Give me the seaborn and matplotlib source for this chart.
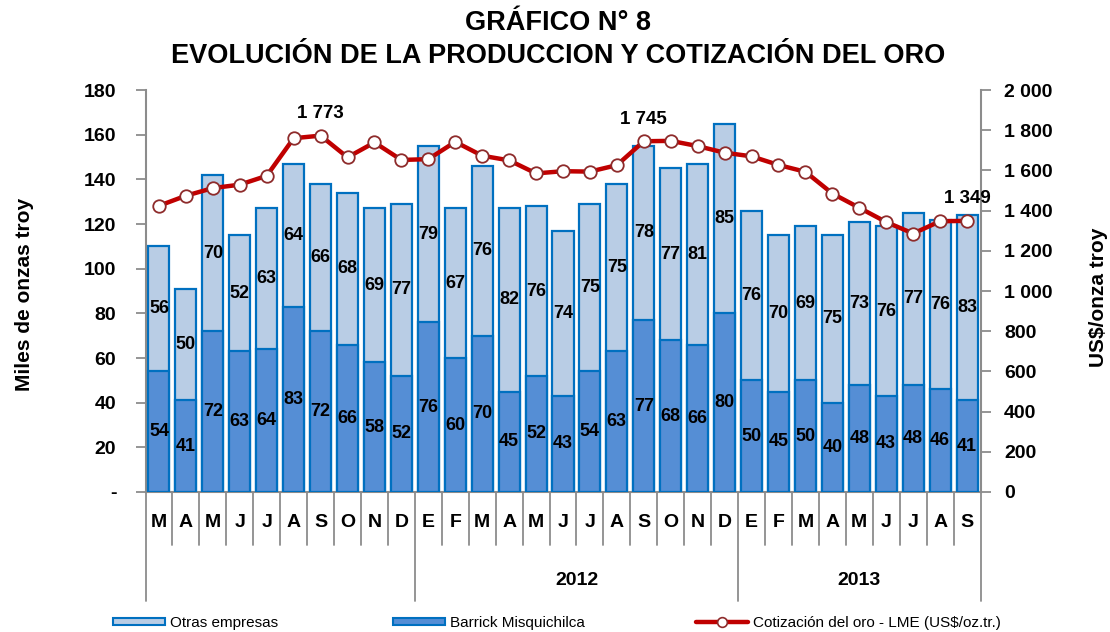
import numpy as np
import pandas as pd
import matplotlib
matplotlib.use("Agg")
import matplotlib.pyplot as plt
import seaborn as sns
from matplotlib.transforms import blended_transform_factory
from matplotlib.patches import Patch
from matplotlib.lines import Line2D

# ---------------- data ----------------
months = ["M", "A", "M", "J", "J", "A", "S", "O", "N", "D",
          "E", "F", "M", "A", "M", "J", "J", "A", "S", "O", "N", "D",
          "E", "F", "M", "A", "M", "J", "J", "A", "S"]
years = [2011] * 10 + [2012] * 12 + [2013] * 9
barrick = [54, 41, 72, 63, 64, 83, 72, 66, 58, 52,
           76, 60, 70, 45, 52, 43, 54, 63, 77, 68, 66, 80,
           50, 45, 50, 40, 48, 43, 48, 46, 41]
otras = [56, 50, 70, 52, 63, 64, 66, 68, 69, 77,
         79, 67, 76, 82, 76, 74, 75, 75, 78, 77, 81, 85,
         76, 70, 69, 75, 73, 76, 77, 76, 83]
oro = [1424, 1474, 1512, 1529, 1573, 1760, 1773, 1665, 1739, 1652,
       1656, 1742, 1673, 1650, 1585, 1596, 1594, 1626, 1745, 1747, 1721, 1688,
       1670, 1627, 1593, 1485, 1414, 1343, 1286, 1347, 1349]
labeled_years = ["2012", "2013"]
highlight_idx = [6, 18, 30]
left_ticks = list(range(0, 181, 20))
left_ticklabels = ["-"] + [str(v) for v in left_ticks[1:]]
right_ticks = list(range(0, 2001, 200))

title1 = "GRÁFICO N° 8"
title2 = "EVOLUCIÓN DE LA PRODUCCION Y COTIZACIÓN DEL ORO"
ylabel_left = "Miles de onzas troy"
ylabel_right = "US$/onza troy"
leg_labels = ["Otras empresas", "Barrick Misquichilca", "Cotización del oro - LME (US$/oz.tr.)"]

# ---------------- style ----------------
c_light = "#B9CDE5"
c_dark = "#558ED5"
c_edge = "#0070C0"
c_line = "#C00000"
c_mark_edge = "#8E2B2B"
c_axis = "#8C8C8C"

sns.set_theme(style="white")
plt.rcParams["font.family"] = ["Liberation Sans", "DejaVu Sans"]
plt.rcParams["text.color"] = "black"
plt.rcParams["axes.labelcolor"] = "black"
plt.rcParams["xtick.labelcolor"] = "black"
plt.rcParams["ytick.labelcolor"] = "black"

fig = plt.figure(figsize=(11.1, 6.32), dpi=100)
ax = fig.add_axes([145.5 / 1110, 1 - 492 / 632, (980.5 - 145.5) / 1110, (492 - 90) / 632])

n = len(months)
keys = [f"{y}-{i:02d}" for i, y in enumerate(years)]
df = pd.DataFrame({"key": keys,
                   "total": np.add(barrick, otras),
                   "barrick": barrick})

sns.barplot(data=df, x="key", y="total", order=keys, color=c_light, edgecolor=c_edge,
            linewidth=1.6, width=0.78, saturation=1, errorbar=None, ax=ax, zorder=2)
sns.barplot(data=df, x="key", y="barrick", order=keys, color=c_dark, edgecolor=c_edge,
            linewidth=1.6, width=0.78, saturation=1, errorbar=None, ax=ax, zorder=3)

ax.set_xlim(-0.5, n - 0.5)
ax.set_ylim(0, 180)
ax.set_xlabel("")
ax.set_ylabel("")
ax.set_xticks([])
ax.set_yticks(left_ticks)
ax.set_yticklabels(left_ticklabels, fontsize=14, fontweight="bold")
ax.tick_params(axis="y", left=True, length=7, width=1.3, color=c_axis, labelcolor="black",
               direction="out", pad=14)
for s in ["top", "right"]:
    ax.spines[s].set_visible(False)
for s in ["left", "bottom"]:
    ax.spines[s].set_color(c_axis)
    ax.spines[s].set_linewidth(1.5)

# bar labels
for i in range(n):
    ax.text(i, barrick[i] / 2, str(barrick[i]), ha="center", va="center",
            fontsize=13, fontweight="bold", color="black", zorder=5)
    ax.text(i, barrick[i] + otras[i] / 2, str(otras[i]), ha="center", va="center",
            fontsize=13, fontweight="bold", color="black", zorder=5)

# secondary axis with gold price
ax2 = ax.twinx()
sns.lineplot(x=np.arange(n), y=oro, ax=ax2, color=c_line, linewidth=3.2, marker="o",
             markersize=9, markerfacecolor="white", markeredgecolor=c_mark_edge,
             markeredgewidth=1.3, zorder=6)
ax2.set_xlim(-0.5, n - 0.5)
ax2.set_ylim(0, 2000)
ax2.set_yticks(right_ticks)
ax2.set_yticklabels([f"{v:,}".replace(",", " ") for v in right_ticks], fontsize=14, fontweight="bold")
ax2.tick_params(axis="y", right=True, length=7, width=1.3, color=c_axis, labelcolor="black",
                direction="out", pad=10)
for lab in ax2.get_yticklabels():
    lab.set_ha("left")
ax2.set_ylabel("")
for s in ["top", "left", "bottom"]:
    ax2.spines[s].set_visible(False)
ax2.spines["right"].set_color(c_axis)
ax2.spines["right"].set_linewidth(1.5)

for i in highlight_idx:
    ax2.annotate(f"{oro[i]:,}".replace(",", " "), (i, oro[i]), xytext=(0, 16),
                 textcoords="offset points", ha="center", va="center",
                 fontsize=13.5, fontweight="bold", color="black", zorder=7)

# category axis: months, separators, years
tr = blended_transform_factory(ax.transData, ax.transAxes)
for i, m in enumerate(months):
    ax.text(i, -0.077, m, transform=tr, ha="center", va="center",
            fontsize=14, fontweight="bold", color="black", clip_on=False)
year_bounds = [0] + [i for i in range(1, n) if years[i] != years[i - 1]] + [n]
for b in range(n + 1):
    depth = -0.27 if b in year_bounds else -0.132
    ax.plot([b - 0.5, b - 0.5], [0, depth], transform=tr, color=c_axis, lw=1.3,
            clip_on=False, zorder=1)
for k in range(len(year_bounds) - 1):
    y0, y1 = year_bounds[k], year_bounds[k + 1]
    ylab = str(years[y0])
    if ylab in labeled_years:
        ax.text((y0 + y1 - 1) / 2, -0.219, ylab, transform=tr, ha="center", va="center",
                fontsize=14, fontweight="bold", color="black", clip_on=False)

# axis titles
fig.text(25 / 1110, 1 - 294 / 632, ylabel_left, rotation=90, ha="center", va="center",
         fontsize=15, fontweight="bold", color="black")
fig.text(1098 / 1110, 1 - 297 / 632, ylabel_right, rotation=90, ha="center", va="center",
         fontsize=15, fontweight="bold", color="black")

# title
fig.text(0.503, 1 - 23 / 632, title1, ha="center", va="center", fontsize=19.5,
         fontweight="bold", color="black")
fig.text(0.503, 1 - 56 / 632, title2, ha="center", va="center", fontsize=19.5,
         fontweight="bold", color="black")

# legend (three separate entries)
handles = [Patch(facecolor=c_light, edgecolor=c_edge, linewidth=1.5),
           Patch(facecolor=c_dark, edgecolor=c_edge, linewidth=1.5),
           Line2D([], [], color=c_line, lw=3.2, marker="o", markersize=7,
                  markerfacecolor="white", markeredgecolor=c_mark_edge, markeredgewidth=1.2)]
starts = [113, 393, 696]
for h, lab, x0 in zip(handles, leg_labels, starts):
    leg = fig.legend([h], [lab], loc="center left", bbox_to_anchor=(x0 / 1110, 1 - 623 / 632),
                     frameon=False, fontsize=11, handlelength=3.4, handleheight=0.4,
                     handletextpad=0.35, borderpad=0, borderaxespad=0)
    for t in leg.get_texts():
        t.set_color("black")

fig.savefig("out.png", dpi=100)
